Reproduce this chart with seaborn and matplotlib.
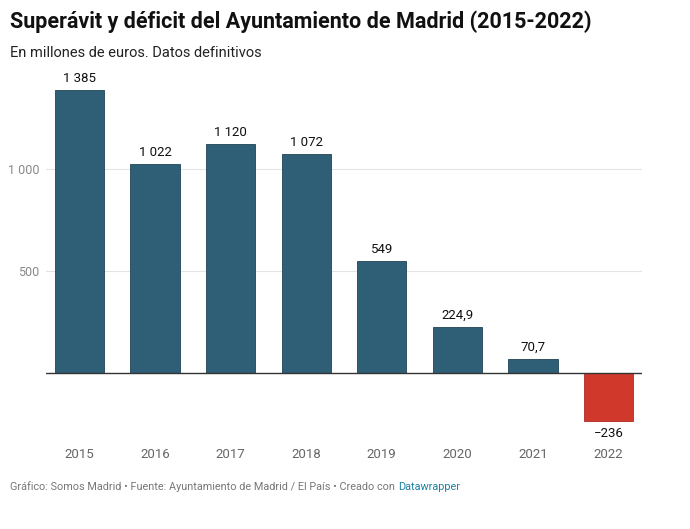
import matplotlib
matplotlib.use("Agg")
import matplotlib.pyplot as plt
import seaborn as sns
import pandas as pd

years = ["2015", "2016", "2017", "2018", "2019", "2020", "2021", "2022"]
balance = [1385, 1022, 1120, 1072, 549, 224.9, 70.7, -236]
y_ticks = [500, 1000]

BLUE = "#2f5f76"
RED = "#d1382c"


def fmt(v):
    """Spanish style number: space thousands, comma decimals, true minus."""
    if float(v).is_integer():
        s = f"{abs(int(v)):,}".replace(",", " ")
    else:
        s = f"{abs(v):,.1f}".replace(",", " ").replace(".", ",")
    return ("\u2212" if v < 0 else "") + s


df = pd.DataFrame({"year": years, "value": balance})
colors = [BLUE if v >= 0 else RED for v in balance]

sns.set_style("white")
plt.rcParams["font.family"] = ["Roboto", "DejaVu Sans"]

fig = plt.figure(figsize=(6.9, 5.29), dpi=100)
ax = fig.add_axes([46 / 690, 1 - 430 / 529, (642 - 46) / 690, (430 - 70) / 529])

sns.barplot(data=df, x="year", y="value", hue="year", palette=colors,
            legend=False, width=0.65, ax=ax, saturation=1)
for patch in ax.patches:
    patch.set_edgecolor("#1f4456" if patch.get_facecolor()[0] < 0.5 else "#b02a20")
    patch.set_linewidth(0.6)

ax.set_xlim(-0.443, 7.443)
ax.set_ylim(-279, 1485)

for i, v in enumerate(balance):
    if v >= 0:
        ax.text(i, v + 25, fmt(v), ha="center", va="bottom", fontsize=9.5, color="#111111")
    else:
        ax.text(i, v - 30, fmt(v), ha="center", va="top", fontsize=9.5, color="#111111")

ax.set_yticks(y_ticks)
ax.set_yticklabels([fmt(t) for t in y_ticks], color="#888888", fontsize=9)
ax.tick_params(axis="y", length=0, pad=5)
ax.tick_params(axis="x", length=0, pad=13, labelcolor="#666666", labelsize=9.5)
ax.grid(axis="y", color="#e3e3e3", linewidth=0.8)
ax.set_axisbelow(True)
ax.axhline(0, color="#333333", linewidth=1.0, zorder=3)
ax.set_xlabel("")
ax.set_ylabel("")
sns.despine(ax=ax, left=True, bottom=True)

fig.text(10 / 690, 1 - 22 / 529, "Superávit y déficit del Ayuntamiento de Madrid (2015-2022)",
         fontsize=15.5, fontweight="bold", va="center", ha="left", color="#111111")
fig.text(10 / 690, 1 - 53 / 529, "En millones de euros. Datos definitivos",
         fontsize=10.5, va="center", ha="left", color="#222222")
foot = fig.text(10 / 690, 1 - 487 / 529,
                "Gráfico: Somos Madrid • Fuente: Ayuntamiento de Madrid / El País • Creado con",
                fontsize=7.8, va="center", ha="left", color="#777777")
fig.canvas.draw()
bb = foot.get_window_extent(renderer=fig.canvas.get_renderer())
fig.text((bb.x1 + 3) / 690, 1 - 487 / 529, "Datawrapper", fontsize=7.8, va="center",
         ha="left", color="#1d81a2")

fig.savefig("out.png", dpi=100)
